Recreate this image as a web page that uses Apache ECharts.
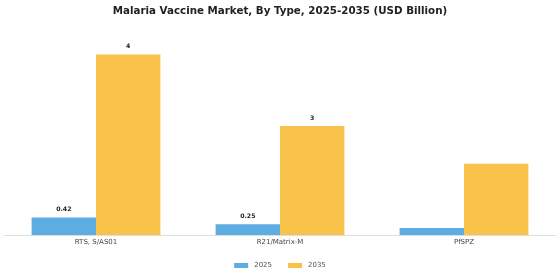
<!DOCTYPE html>
<html>
<head>
<meta charset="utf-8">
<script src="https://cdn.jsdelivr.net/npm/echarts@6/dist/echarts.min.js"></script>
<style>
  html, body { margin: 0; padding: 0; background: #fff; }
  #chart { width: 560px; height: 280px; }
</style>
</head>
<body>
<div id="chart"></div>
<script>
// data
const categories = ["RTS, S/AS01", "R21/Matrix-M", "PfSPZ"];
const values2025 = [0.42, 0.26, 0.17];
const values2035 = [4.36, 2.63, 1.72];
// labels as printed above the bars (blank = none)
const labels2025 = ["0.42", "0.25", ""];
const labels2035 = ["4", "3", ""];

const chart = echarts.init(document.getElementById("chart"));

const labelStyle = (texts) => ({
  show: true,
  position: "top",
  distance: 5,
  fontFamily: "DejaVu Sans",
  fontSize: 6.2,
  fontWeight: "bold",
  color: "#222",
  formatter: (p) => texts[p.dataIndex],
});

chart.setOption({
  animation: false,
  title: {
    text: "Malaria Vaccine Market, By Type, 2025-2035 (USD Billion)",
    left: "center",
    top: 1,
    textStyle: {
      fontFamily: "DejaVu Sans",
      fontSize: 10.3,
      fontWeight: "bold",
      color: "#222",
    },
  },
  legend: {
    data: ["2025", "2035"],
    left: "center",
    top: 257,
    icon: "rect",
    itemWidth: 14,
    itemHeight: 5,
    itemGap: 16,
    textStyle: { fontFamily: "DejaVu Sans", fontSize: 7, color: "#555", padding: [0, 0, 0, 1] },
  },
  grid: { left: 4, right: 4, top: 28, bottom: 45 },
  xAxis: {
    type: "category",
    data: categories,
    axisLine: { lineStyle: { color: "#ddd" } },
    axisTick: { alignWithLabel: true, length: 3, lineStyle: { color: "#aaa" } },
    axisLabel: { fontFamily: "DejaVu Sans", fontSize: 7, color: "#444", margin: 4 },
  },
  yAxis: {
    type: "value",
    min: 0,
    max: 5,
    show: false,
    splitLine: { show: false },
  },
  series: [
    {
      name: "2025",
      type: "bar",
      data: values2025,
      barGap: "0%",
      barCategoryGap: "30%",
      itemStyle: { color: "#5DADE2" },
      label: labelStyle(labels2025),
    },
    {
      name: "2035",
      type: "bar",
      data: values2035,
      itemStyle: { color: "#F8C24B" },
      label: labelStyle(labels2035),
    },
  ],
});
</script>
</body>
</html>
